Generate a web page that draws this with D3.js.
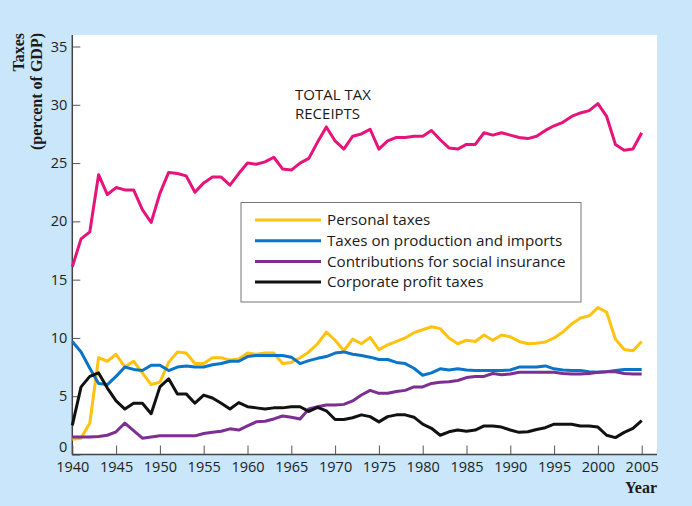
<!DOCTYPE html>
<html><head><meta charset="utf-8">
<script src="https://cdn.jsdelivr.net/npm/d3@7"></script>
<style>
html,body{margin:0;padding:0;background:#c9e6fb;}
svg{display:block;}
text{font-family:"Open Sans","Noto Sans",sans-serif;fill:#1a1a1a;}
</style></head><body>
<svg id="chart" width="692" height="506"></svg>
<script>
const years = d3.range(1940, 2006);
const total = [16.1,18.5,19.1,24.0,22.3,22.9,22.7,22.7,21.0,19.9,22.4,24.2,24.1,23.9,22.5,23.3,23.8,23.8,23.1,24.1,25.0,24.9,25.1,25.5,24.5,24.4,25.0,25.4,26.8,28.1,26.9,26.2,27.3,27.5,27.9,26.2,26.9,27.2,27.2,27.3,27.3,27.8,27.0,26.3,26.2,26.6,26.6,27.6,27.4,27.6,27.4,27.2,27.1,27.3,27.8,28.2,28.5,29.0,29.3,29.5,30.1,29.0,26.6,26.1,26.2,27.6];
const personal = [1.3,1.4,2.7,8.3,8.0,8.6,7.5,8.0,7.0,6.0,6.2,7.9,8.8,8.7,7.8,7.8,8.3,8.3,8.1,8.2,8.7,8.6,8.7,8.7,7.8,7.9,8.3,8.8,9.5,10.5,9.8,8.9,9.9,9.5,10.05,9.0,9.4,9.7,10.0,10.45,10.7,10.96,10.8,10.0,9.5,9.8,9.7,10.25,9.8,10.25,10.1,9.7,9.5,9.55,9.65,10.0,10.5,11.2,11.7,11.9,12.6,12.2,9.9,9.0,8.9,9.7];
const production = [9.7,8.8,7.4,6.1,6.0,6.7,7.5,7.3,7.2,7.65,7.65,7.2,7.5,7.6,7.5,7.5,7.7,7.8,8.0,8.0,8.4,8.5,8.5,8.5,8.5,8.35,7.8,8.05,8.25,8.4,8.7,8.8,8.6,8.5,8.35,8.15,8.15,7.9,7.8,7.4,6.8,7.0,7.35,7.25,7.35,7.25,7.2,7.2,7.2,7.2,7.25,7.5,7.5,7.5,7.6,7.35,7.25,7.2,7.2,7.1,7.05,7.1,7.2,7.3,7.3,7.3];
const social = [1.5,1.5,1.5,1.55,1.65,1.95,2.7,2.05,1.4,1.5,1.6,1.6,1.6,1.6,1.6,1.8,1.9,2.0,2.2,2.1,2.45,2.8,2.85,3.05,3.3,3.2,3.05,3.9,4.1,4.25,4.25,4.3,4.6,5.1,5.5,5.25,5.25,5.4,5.5,5.8,5.8,6.1,6.2,6.25,6.35,6.6,6.7,6.7,6.95,6.85,6.9,7.05,7.05,7.05,7.05,7.05,6.95,6.9,6.9,6.95,7.05,7.1,7.1,6.95,6.9,6.9];
const corporate = [2.5,5.8,6.7,7.0,5.7,4.6,3.9,4.4,4.4,3.5,5.8,6.5,5.2,5.2,4.4,5.1,4.85,4.4,3.9,4.45,4.1,4.0,3.9,4.0,4.0,4.1,4.1,3.7,4.05,3.75,3.0,3.0,3.15,3.4,3.25,2.8,3.25,3.4,3.4,3.2,2.6,2.25,1.65,1.95,2.1,2.0,2.1,2.45,2.45,2.35,2.1,1.9,1.95,2.15,2.3,2.6,2.6,2.6,2.45,2.45,2.35,1.65,1.45,1.9,2.25,2.9];
const xTicks = [1940,1945,1950,1955,1960,1965,1970,1975,1980,1985,1990,1995,2000,2005];
const yTicks = [0,5,10,15,20,25,30,35];
const seriesNames = ["Personal taxes","Taxes on production and imports","Contributions for social insurance","Corporate profit taxes"];
const seriesColors = ["#ffc20e","#0a74c8","#7d2e92","#111111"];
const totalColor = "#e8137a";

const svg = d3.select("#chart");
const L = 72.3, R = 657, T = 35, B = 454.5;
const x = d3.scaleLinear().domain([1940, 1940 + (R - L) / 8.76]).range([L, R]);
const y = d3.scaleLinear().domain([0, 35]).range([B, 46.5]);

svg.append("rect").attr("x", L).attr("y", T).attr("width", R - L).attr("height", B - T).attr("fill", "#fff");

const line = d3.line().x((d, i) => x(years[i])).y(d => y(d));

// axes
const yAxis = svg.append("g").attr("transform", `translate(${L},0)`)
  .call(d3.axisRight(y).tickValues(yTicks).tickSize(8).tickFormat(d3.format("d")));
yAxis.select(".domain").remove();
yAxis.selectAll(".tick line").attr("stroke", "#555");
yAxis.selectAll(".tick text").attr("x", -5).attr("text-anchor", "end").attr("font-size", 14.5).style("fill", "#222")
  .attr("dy", d => d === 0 ? "-0.22em" : "0.32em");
svg.append("line").attr("x1", L).attr("x2", L).attr("y1", T).attr("y2", B).attr("stroke", "#444").attr("stroke-width", 1.5);

const xAxis = svg.append("g").attr("transform", `translate(0,${B})`)
  .call(d3.axisTop(x).tickValues(xTicks).tickSize(9).tickFormat(d3.format("d")));
xAxis.select(".domain").remove();
xAxis.selectAll(".tick line").attr("stroke", "#555");
xAxis.selectAll(".tick text").attr("y", 17).attr("dy", 0).attr("font-size", 14.5).style("fill", "#222");
svg.append("line").attr("x1", L).attr("x2", R).attr("y1", B).attr("y2", B).attr("stroke", "#444").attr("stroke-width", 1.5);

// lines
const data = [personal, production, social, corporate];
data.forEach((s, i) => {
  svg.append("path").datum(s).attr("d", line).attr("fill", "none")
    .attr("stroke", seriesColors[i]).attr("stroke-width", 3).attr("stroke-linejoin", "round");
});
svg.append("path").datum(total).attr("d", line).attr("fill", "none")
  .attr("stroke", totalColor).attr("stroke-width", 3).attr("stroke-linejoin", "round");

// total label
const tl = svg.append("text").attr("x", 295).attr("y", 100).attr("font-size", 15);
tl.append("tspan").attr("x", 295).text("TOTAL TAX");
tl.append("tspan").attr("x", 295).attr("dy", 19).text("RECEIPTS");

// legend
const lg = svg.append("g");
lg.append("rect").attr("x", 241).attr("y", 202.5).attr("width", 340).attr("height", 99.5)
  .attr("fill", "#fff").attr("stroke", "#777").attr("stroke-width", 1);
seriesNames.forEach((n, i) => {
  const cy = 220 + i * 20.7;
  lg.append("line").attr("x1", 255).attr("x2", 321).attr("y1", cy).attr("y2", cy)
    .attr("stroke", seriesColors[i]).attr("stroke-width", 3);
  lg.append("text").attr("x", 327).attr("y", cy + 5.3).attr("font-size", 15.2).text(n);
});

// axis titles
const yt = svg.append("text").attr("transform", "translate(23.5,33) rotate(-90)")
  .attr("text-anchor", "end").style("font-family", "'Liberation Serif','DejaVu Serif',serif")
  .attr("font-weight", "bold").attr("font-size", 16);
yt.append("tspan").attr("x", 0).attr("y", 0).text("Taxes");
yt.append("tspan").attr("x", 0).attr("y", 18).text("(percent of GDP)");

svg.append("text").attr("x", 657).attr("y", 493).attr("text-anchor", "end")
  .style("font-family", "'Liberation Serif','DejaVu Serif',serif").attr("font-weight", "bold")
  .attr("font-size", 16).text("Year");
</script></body></html>
